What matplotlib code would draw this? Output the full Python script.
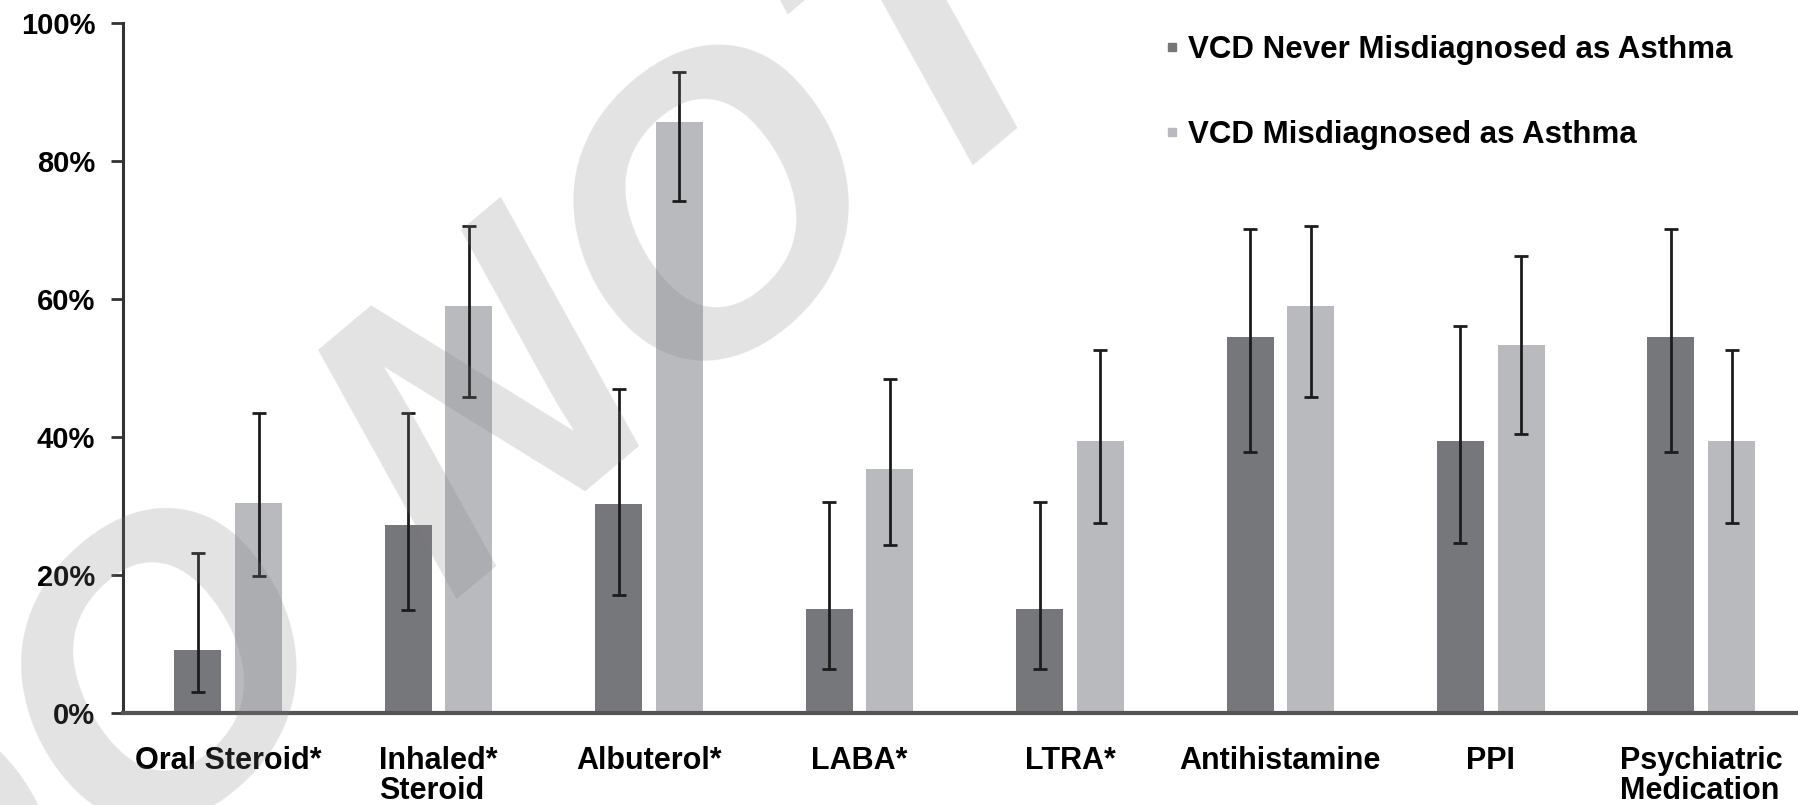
import numpy as np
import matplotlib.pyplot as plt
from matplotlib.lines import Line2D

# medication categories (x tick labels)
categories = ["Oral Steroid*", "Inhaled*\nSteroid", "Albuterol*", "LABA*",
              "LTRA*", "Antihistamine", "PPI", "Psychiatric\nMedication"]

# VCD never misdiagnosed as asthma (%), with CI bounds
never = [9.2, 27.2, 30.3, 15.1, 15.1, 54.5, 39.4, 54.5]
never_lo = [3.1, 15.0, 17.1, 6.4, 6.4, 37.8, 24.7, 37.8]
never_hi = [23.2, 43.5, 47.0, 30.6, 30.6, 70.1, 56.1, 70.1]

# VCD misdiagnosed as asthma (%), with CI bounds
mis = [30.4, 59.0, 85.7, 35.3, 39.4, 59.0, 53.4, 39.4]
mis_lo = [19.8, 45.8, 74.2, 24.3, 27.6, 45.8, 40.5, 27.6]
mis_hi = [43.5, 70.6, 92.9, 48.4, 52.6, 70.6, 66.2, 52.6]

series_names = ["VCD Never Misdiagnosed as Asthma", "VCD Misdiagnosed as Asthma"]
yticks = [0, 20, 40, 60, 80, 100]

dark = "#76777b"
light = "#b9babe"

plt.rcParams['font.family'] = ['Liberation Sans', 'DejaVu Sans']
plt.rcParams['font.weight'] = 'bold'

fig = plt.figure(figsize=(17.98, 8.05), dpi=100)
ax = fig.add_axes([123 / 1798, 1 - 713 / 805, 1 - 123 / 1798, (713 - 23) / 805])

x = np.arange(len(categories))
w = 0.223
off = 0.144

never = np.array(never)
mis = np.array(mis)
err_never = [never - np.array(never_lo), np.array(never_hi) - never]
err_mis = [mis - np.array(mis_lo), np.array(mis_hi) - mis]

ax.bar(x - off, never, width=w, color=dark, zorder=2)
ax.bar(x + off, mis, width=w, color=light, zorder=2)
ekw = dict(fmt='none', ecolor='#1c1c1c', elinewidth=2.0, capsize=5,
           capthick=2.0, zorder=3)
ax.errorbar(x - off, never, yerr=err_never, **ekw)
ax.errorbar(x + off, mis, yerr=err_mis, **ekw)

ax.set_xlim(-0.5, 7.46)
ax.set_ylim(0, 100)
ax.set_yticks(yticks)
ax.set_yticklabels([f"{t}%" for t in yticks], fontsize=21, fontweight='bold')
ax.set_xticks(x)
ax.set_xticklabels(categories, fontsize=22, fontweight='bold',
                   multialignment='left', linespacing=1.0)
ax.tick_params(axis='x', length=0, pad=24)
ax.tick_params(axis='y', length=9, width=2, direction='out', pad=11,
               color='#333333')

for s in ['top', 'right']:
    ax.spines[s].set_visible(False)
ax.spines['left'].set_linewidth(2.2)
ax.spines['left'].set_color('#333333')
ax.spines['bottom'].set_linewidth(3)
ax.spines['bottom'].set_color('#555555')
ax.spines['bottom'].set_zorder(4)

handles = [Line2D([], [], marker='s', linestyle='none', markersize=6, color=dark),
           Line2D([], [], marker='s', linestyle='none', markersize=6, color=light)]
leg = fig.legend(handles, series_names, loc='upper left',
                 bbox_to_anchor=(1166 / 1798, 1 - 35 / 805), frameon=False,
                 prop={'size': 22.5, 'weight': 'bold'}, handlelength=0.4,
                 handletextpad=0.3, labelspacing=1.75, borderpad=0,
                 borderaxespad=0)

# faint diagonal watermark across the chart
fig.text(-0.056, -0.325, "DO NOT COPY", rotation=40, rotation_mode='anchor',
         ha='left', va='baseline', fontsize=292, fontweight='bold',
         fontstyle='italic', color='#808080', alpha=0.22, zorder=10)

fig.savefig('out.png', dpi=100)
